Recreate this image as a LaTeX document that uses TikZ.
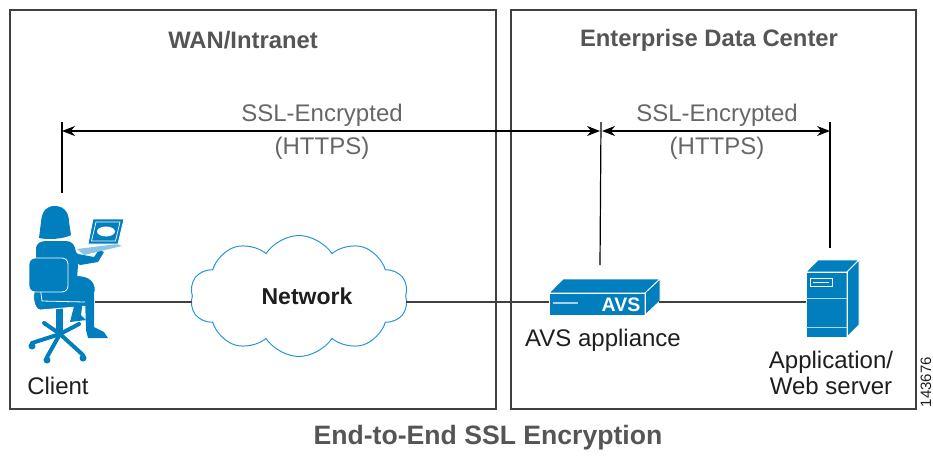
\documentclass[tikz,border=0pt]{standalone}
\usepackage{fontspec}
\setmainfont{Liberation Sans}
\usetikzlibrary{arrows.meta,shapes.symbols}
\definecolor{ciscoblue}{RGB}{0,126,190}
\definecolor{cloudblue}{RGB}{40,150,210}
\definecolor{framegray}{RGB}{64,64,64}
\definecolor{titlegray}{RGB}{85,85,85}
\definecolor{labelgray}{RGB}{102,102,102}
\definecolor{textblack}{RGB}{30,30,30}

\begin{document}
\begin{tikzpicture}[x=1pt,y=-1pt,
  frame/.style={draw=framegray,line width=1.8pt},
  title/.style={font=\fontsize{23.8}{28}\selectfont\bfseries,text=titlegray},
  label/.style={font=\fontsize{24}{26}\selectfont,text=textblack,align=center},
  ssl/.style={font=\fontsize{24}{33}\selectfont,text=labelgray,align=center},
  link/.style={draw=framegray,line width=1.3pt},
  span/.style={line width=1.2pt,{Stealth[length=13pt,width=10pt]}-{Stealth[length=13pt,width=10pt]}},
  tick/.style={line width=1.2pt},
  dev/.style={fill=ciscoblue,draw=white,line width=0.8pt,line join=round},
  devface/.style={fill=ciscoblue,inner sep=0pt,outer sep=0pt},
  person/.style={fill=ciscoblue},
  chairleg/.style={draw=ciscoblue,line width=4pt,line cap=round},
]
\useasboundingbox (0,0) rectangle (933,455);

% the two zones
\draw[frame] (10,10) rectangle (496,409);
\draw[frame] (511,10) rectangle (916,409);
\node[title] (wantitle) at (243,40) {WAN/Intranet};
\node[title] (edctitle) at (709,40) {Enterprise Data Center};

% ---------- client: woman on an office chair with a laptop ----------
% chair base and post
\foreach \p in {(32,343),(47,357),(83,355),(79,324),(44,323)}
  \draw[chairleg] (60,334) -- \p;
\foreach \p in {(32,346),(47,360),(83,358)}
  \fill[ciscoblue] \p circle (3.5);
\fill[ciscoblue] (56,300) rectangle (63,334);
% seat cushion
\filldraw[dev] (35,290) -- (86,289) .. controls (92,290) and (93,300) .. (88,306)
  -- (40,310) .. controls (34,309) and (32,296) .. (35,290) -- cycle;
% legs
\fill[person] (76,299) -- (83,299) -- (81,315) -- (86,320) -- (70,322) -- (72,314) -- cycle;
\filldraw[dev] (40,286) -- (62,278) .. controls (80,273) and (93,276) .. (95,287)
  .. controls (96,296) and (90,302) .. (84,302) -- (42,301) -- cycle;
\fill[person] (85,296) -- (94,294) -- (94,327) -- (104,332) -- (108,338) -- (88,338)
  -- (86,330) -- cycle;
% torso
\fill[person] (36,262) -- (36,250) .. controls (36,243) and (40,241) .. (47,241)
  -- (66,241) .. controls (72,241) and (75,245) .. (76,252) -- (78,266) -- (76,290)
  -- (36,290) -- cycle;
% hair
\fill[person] (39,238) -- (41,222) .. controls (42,210) and (47,206) .. (55,206)
  .. controls (65,206) and (69,214) .. (69,222) -- (71,235)
  .. controls (64,239) and (48,240) .. (39,238) -- cycle;
% chair back
\filldraw[dev,rounded corners=6pt] (29,258) rectangle (68,292);
% arm reaching to the keyboard
\fill[person] (70,246) -- (78,254) -- (94,257) -- (99,250) -- (104,252) -- (98,262)
  -- (80,265) -- (70,259) -- cycle;
% laptop
\fill[ciscoblue!45!white] (77,249) -- (117,244) -- (122,246) -- (84,255) -- cycle;
\filldraw[dev] (93,219) -- (124,219) -- (118,244) -- (88,244) -- cycle;
\draw[white,line width=0.7pt] (96,222) -- (120,222) -- (115.5,241) -- (91.5,241) -- cycle;
\fill[white] (106,231.5) ellipse (9 and 5);
\coordinate (clientup) at (62,193);
\coordinate (clientpt) at (95,302);
\node[label] (clientlbl) at (58,386) {Client};

% ---------- network cloud ----------
\node[cloud,cloud puffs=10,cloud puff arc=115,aspect=1.8,draw=cloudblue,line width=1pt,
  minimum width=218pt,minimum height=121pt,inner sep=0pt] (net) at (299,296) {};
\node[font=\fontsize{23}{26}\selectfont\bfseries,text=textblack] (nettext)
  at ([xshift=8pt]net.center) {Network};

% ---------- AVS appliance ----------
\node[devface,minimum width=96pt,minimum height=22pt,anchor=north west] (avs) at (549,293) {};
\filldraw[dev] (avs.north west) -- ++(14,-14) -- ++(97,0) -- (avs.north east) -- cycle;
\filldraw[dev] (avs.north east) -- ++(15,-14) -- ++(0,22) -- (avs.south east) -- cycle;
\draw[white,line width=0.8pt] (avs.north west) rectangle (avs.south east);
\draw[ciscoblue!35!white,line width=1.4pt] (553,303) -- (578,303);
\node[font=\fontsize{19.5}{22}\selectfont\bfseries,text=white] (avstext) at (621,304.5) {AVS};
\coordinate (avsup) at (600,265);
\coordinate (avsout) at (659,302);
\node[label] (avslbl) at (603,340) {AVS appliance};

% ---------- application / web server ----------
\node[devface,minimum width=41pt,minimum height=65pt,anchor=north west] (srv) at (806,272) {};
\filldraw[dev] (srv.north west) -- ++(12,-12) -- ++(41,0) -- (srv.north east) -- cycle;
\filldraw[dev] (srv.north east) -- ++(12,-12) -- ++(0,65) -- (srv.south east) -- cycle;
\draw[white,line width=0.8pt] (srv.north west) rectangle (srv.south east);
\draw[ciscoblue!30!white,line width=1pt] (806,298) -- (847,298) (806,327) -- (847,327);
\draw[white,line width=0.8pt] (810,278) rectangle (832,286);
\draw[white,line width=0.8pt] (813,282) -- (829,282);
\coordinate (srvup) at (830,248);
\node[label] (srvlbl) at (831,373) {Application/\\Web server};

% ---------- network path ----------
\draw[link] (clientpt) -- (clientpt -| net.west);
\draw[link] (net.east |- clientpt) -- (avs.west |- clientpt);
\draw[link] (avsout) -- (avsout -| srv.west);

% ---------- encrypted spans ----------
\coordinate (clienttop) at (62,122);
\coordinate (avstop) at (601,122);
\coordinate (srvtop) at (830,122);
\draw[tick] (clienttop) -- (clientup);
\draw[tick] (avstop) -- (avsup);
\draw[tick] (srvtop) -- (srvup);
\draw[span] ([yshift=-9pt]clienttop) -- ([yshift=-9pt,xshift=-1pt]avstop);
\draw[span] ([yshift=-9pt,xshift=1pt]avstop) -- ([yshift=-9pt]srvtop);
\node[ssl] (ssl1) at (322,131.5) {SSL-Encrypted\\(HTTPS)};
\node[ssl] (ssl2) at (717,131.5) {SSL-Encrypted\\(HTTPS)};

% caption and figure number
\node[title,font=\fontsize{26.6}{30}\selectfont\bfseries] (caption) at (488,438) {End-to-End SSL Encryption};
\node[rotate=90,font=\fontsize{15}{18}\selectfont,text=textblack] (figno) at (926,382) {143676};
\end{tikzpicture}
\end{document}
